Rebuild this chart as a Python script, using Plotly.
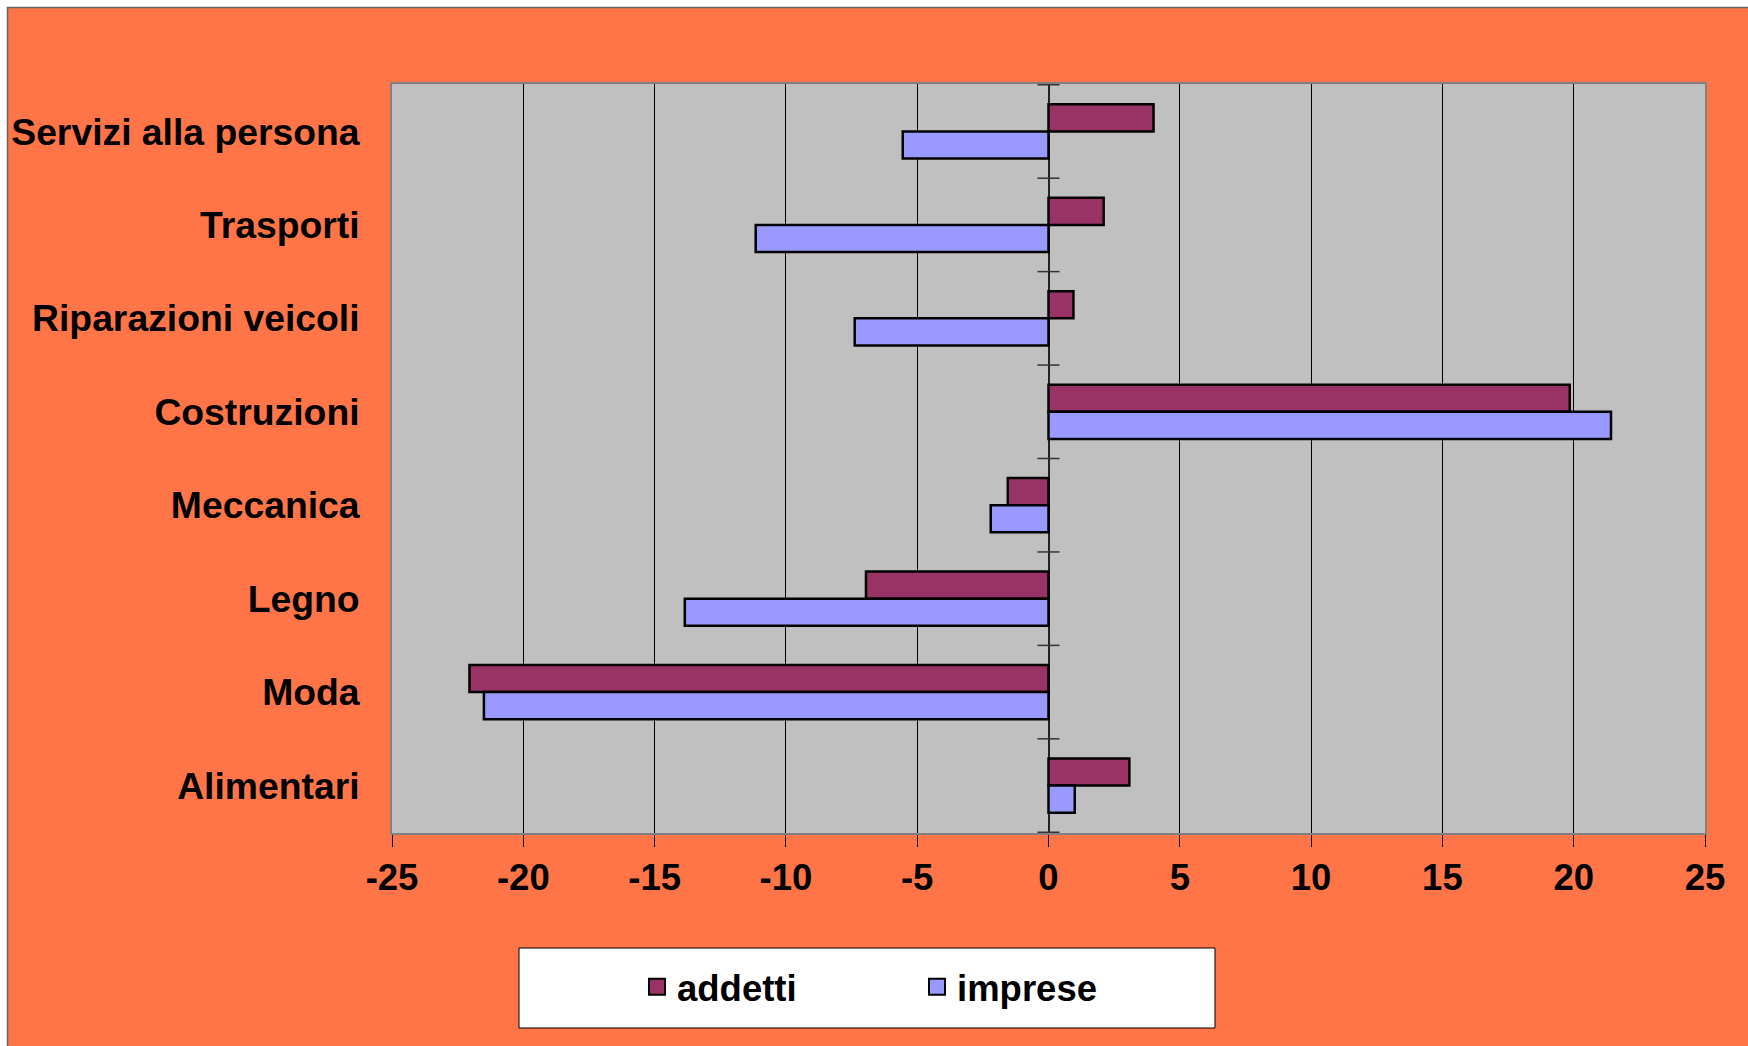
import plotly.graph_objects as go

# Sectors, listed top to bottom as they appear on the chart
categories = [
    "Servizi alla persona",
    "Trasporti",
    "Riparazioni veicoli",
    "Costruzioni",
    "Meccanica",
    "Legno",
    "Moda",
    "Alimentari",
]

# Percentage change per sector
addetti = [4.0, 2.1, 0.95, 19.85, -1.55, -6.95, -22.05, 3.08]
imprese = [-5.55, -11.15, -7.38, 21.42, -2.2, -13.85, -21.5, 1.0]

x_ticks = [-25, -20, -15, -10, -5, 0, 5, 10, 15, 20, 25]

series_names = ["addetti", "imprese"]
series_colors = ["#993366", "#9999FF"]

W, H = 1748, 1046
M_L, M_R, M_T, M_B = 392, 43, 84, 213
PW, PH = W - M_L - M_R, H - M_T - M_B

BG = "#FF7548"
FAMILY = "Liberation Sans, Arial, sans-serif"
BOLD = dict(family=FAMILY, size=36.5, color="black", weight="bold")
BOLD_CAT = dict(family=FAMILY, size=37.3, color="black", weight="bold")


def px_x(px):
    """Figure pixel column -> paper x fraction."""
    return (px - M_L) / PW


def px_y(py):
    """Figure pixel row -> paper y fraction."""
    return (M_T + PH - py) / PH


fig = go.Figure()
for name, vals, color in zip(series_names, [addetti, imprese], series_colors):
    fig.add_trace(
        go.Bar(
            name=name,
            y=categories,
            x=vals,
            orientation="h",
            marker=dict(color=color, line=dict(color="black", width=2.5)),
            showlegend=False,
        )
    )

# Legend keys: larger square swatches than the default bar icon
for name, color in zip(series_names, series_colors):
    fig.add_trace(
        go.Scatter(
            name=name,
            x=[None],
            y=[None],
            mode="markers",
            marker=dict(symbol="square", size=16, color=color,
                        line=dict(color="black", width=2)),
            showlegend=True,
            hoverinfo="skip",
        )
    )

shapes = []
# Small category ticks crossing the zero axis
for i in range(len(categories) + 1):
    shapes.append(
        dict(
            type="line", xref="x", yref="y",
            xsizemode="pixel", xanchor=0, x0=-11, x1=11,
            y0=i - 0.5, y1=i - 0.5,
            line=dict(color="#333333", width=1.5),
            layer="above",
        )
    )

# White margin strips with a thin grey frame around the chart area
shapes.append(dict(type="rect", xref="paper", yref="paper",
                   x0=px_x(-5), x1=px_x(7), y0=px_y(H + 5), y1=px_y(-5),
                   fillcolor="white", line=dict(width=0), layer="below"))
shapes.append(dict(type="rect", xref="paper", yref="paper",
                   x0=px_x(-5), x1=px_x(W + 5), y0=px_y(7), y1=px_y(-5),
                   fillcolor="white", line=dict(width=0), layer="below"))
shapes.append(dict(type="line", xref="paper", yref="paper",
                   x0=px_x(7.5), x1=px_x(7.5), y0=px_y(7), y1=px_y(H + 5),
                   line=dict(color="#666666", width=1.5), layer="below"))
shapes.append(dict(type="line", xref="paper", yref="paper",
                   x0=px_x(7), x1=px_x(W + 5), y0=px_y(7.5), y1=px_y(7.5),
                   line=dict(color="#666666", width=1.5), layer="below"))

# Legend frame
shapes.append(dict(type="rect", xref="paper", yref="paper",
                   x0=px_x(519), x1=px_x(1215), y0=px_y(1028), y1=px_y(948),
                   fillcolor="white", line=dict(color="black", width=1),
                   layer="below"))

fig.update_layout(
    width=W,
    height=H,
    margin=dict(l=M_L, r=M_R, t=M_T, b=M_B, pad=0),
    paper_bgcolor=BG,
    plot_bgcolor="#C0C0C0",
    font=dict(family=FAMILY, size=36.5, color="black"),
    barmode="group",
    bargap=0.42,
    bargroupgap=0,
    shapes=shapes,
    showlegend=True,
    legend=dict(
        orientation="h",
        x=px_x(637), xanchor="left",
        y=px_y(987), yanchor="middle",
        bgcolor="rgba(0,0,0,0)",
        borderwidth=0,
        font=BOLD,
        entrywidth=235,
        traceorder="normal",
        itemsizing="trace",
    ),
    xaxis=dict(
        range=[-25, 25],
        tickvals=x_ticks,
        ticktext=[str(v) for v in x_ticks],
        showgrid=True,
        gridcolor="black",
        gridwidth=1,
        zeroline=True,
        zerolinecolor="#222222",
        zerolinewidth=1.5,
        showline=True,
        linecolor="#808080",
        linewidth=2,
        mirror=True,
        ticks="outside",
        ticklen=12,
        tickcolor="black",
        tickwidth=1,
        ticklabelstandoff=-1,
        tickfont=BOLD,
        fixedrange=True,
    ),
    yaxis=dict(
        autorange="reversed",
        showgrid=False,
        showline=True,
        linecolor="#808080",
        linewidth=2,
        mirror=True,
        ticks="",
        ticklabelstandoff=23,
        tickfont=BOLD_CAT,
        fixedrange=True,
    ),
)

fig.write_html("out.html")
